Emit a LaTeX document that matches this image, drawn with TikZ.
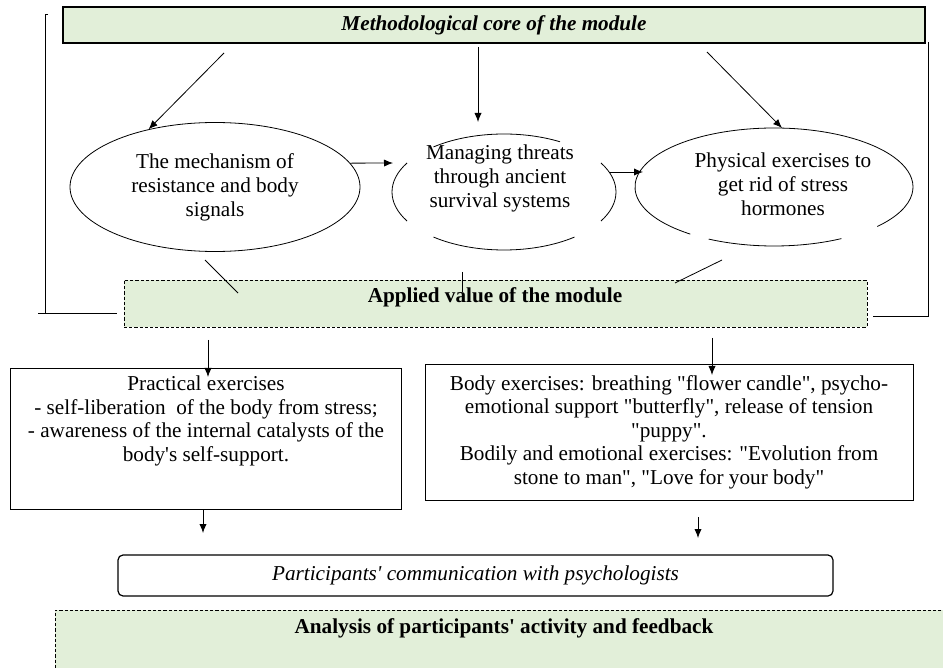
\documentclass[tikz,border=0pt]{standalone}
\usepackage{fontspec}
\setmainfont{Liberation Serif}[Ligatures=TeXOff]
\usetikzlibrary{arrows.meta,shapes.geometric}
\definecolor{palegreen}{RGB}{226,239,217}
\newcommand\diafont{\fontsize{10.6}{12}\selectfont}

\begin{document}
\begin{tikzpicture}[x=0.5pt,y=-0.5pt,
  every node/.style={font=\diafont, inner sep=0pt},
  arr/.style={-{Latex[length=4.5pt,width=3.6pt]}},
  greenbox/.style={draw, fill=palegreen},
  dashbox/.style={greenbox, dash pattern=on 1.6pt off 1pt},
  plainbox/.style={draw},
  txt/.style={align=center}]
\useasboundingbox (0,0) rectangle (943,668);
\clip (0,0) rectangle (943,668);

% free ends of the connectors
\foreach \n/\x/\y in {ta/224/53, tb/478/47, tbe/478/122, tc/707/52, tce/782/128,
    ab/393/163, bc/610/172, bce/643/172,
    la/205/260, lae/238/293, lb/462/272, lbe/462/292, lc/722/260, lce/675/283,
    dl/208/340, dle/208/377, dr/712/338, dre/712/375,
    pb/203/533, br/698/517, bre/698/538}
  \coordinate (\n) at (\x,\y);

% methodological core
\node[greenbox, line width=0.6pt, minimum width=431pt, minimum height=18pt] (core) at (494,25)
  {\textbf{\textit{Methodological core of the module}}};

% bracket lines
\draw (48,14) -- (45,14) -- (45,313);
\draw (38,313) -- (117,313);
\draw (928,42) -- (928,316) -- (873,316);

% ellipses
\node[ellipse, draw, txt, minimum width=145pt, minimum height=64.5pt] (e1) at (215,187)
  {The mechanism of\\ resistance and body\\ signals};

\coordinate (m2) at (504,192);
\node[txt] (e2) at (500,178) {Managing threats\\ through ancient\\ survival systems};
\foreach \a/\b in {150/210, -30/30, 231/300, 51/129}
  \draw (m2) ++(\a:112 and 58) arc[start angle=\a, end angle=\b, x radius=112, y radius=58];

\coordinate (m3) at (774,187);
\node[txt] (e3) at (783,184) {Physical exercises to\\ get rid of stress\\ hormones};
\foreach \a/\b in {127/402, 61/118}
  \draw (m3) ++(\a:139 and 59) arc[start angle=\a, end angle=\b, x radius=139, y radius=59];

\draw[arr] (ta) -- (e1.139);
\draw[arr] (tb) -- (tbe);
\draw[arr] (tc) -- (tce);
\draw[arr] (e1.10) -- (ab);
\draw[arr] (bc) -- (bce);

% applied value
\node[dashbox, minimum width=371.5pt, minimum height=23.5pt] (applied) at (495.5,303.5) {};
\node[font=\diafont\bfseries] (appliedtxt) at (495,297) {Applied value of the module};
\draw (la) -- (lae);
\draw (lb) -- (lbe);
\draw (lc) -- (lce);

% exercises
\node[plainbox, minimum width=195.5pt, minimum height=70.5pt] (prac) at (205.5,438.5) {};
\node[txt, font=\fontsize{10.6}{11.75}\selectfont] (practxt) at (206,421)
  {Practical exercises\\ - self-liberation\ \ of the body from stress;\\
   - awareness of the internal catalysts of the\\ body's self-support.};
\node[plainbox, txt, minimum width=244pt, minimum height=68pt,
  font=\fontsize{10.6}{11.75}\selectfont] (body) at (669,432)
  {Body exercises: breathing "flower candle", psycho-\\
   emotional support "butterfly", release of tension\\ "puppy".\\
   Bodily and emotional exercises: "Evolution from\\
   stone to man", "Love for your body"};

\draw[arr] (dl) -- (dle);
\draw[arr] (dr) -- (dre);
\draw[arr] (prac.south -| pb) -- (pb);
\draw[arr] (br) -- (bre);

% communication and analysis
\node[plainbox, line width=0.6pt, rounded corners=2.5pt, minimum width=357.5pt, minimum height=20.5pt,
  font=\diafont\itshape] (comm) at (475.5,575.5) {Participants' communication with psychologists};
\node[dashbox, minimum width=452.5pt, minimum height=40pt] (analysis) at (507.5,650) {};
\node[font=\diafont\bfseries] (analysistxt) at (504,628) {Analysis of participants' activity and feedback};
\end{tikzpicture}
\end{document}
